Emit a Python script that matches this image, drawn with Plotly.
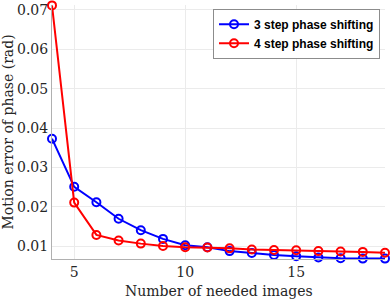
import plotly.graph_objects as go

n_images = list(range(4, 20))
err_3step = [0.0373, 0.0251, 0.0212, 0.0170, 0.0141, 0.0119, 0.0103, 0.0098,
             0.0088, 0.0083, 0.0078, 0.0075, 0.0072, 0.0070, 0.0069, 0.0069]
err_4step = [0.0711, 0.0211, 0.0129, 0.0115, 0.0107, 0.0101, 0.0098, 0.0097,
             0.0095, 0.0092, 0.0091, 0.0090, 0.0088, 0.0087, 0.0086, 0.0084]
names = ["3 step phase shifting", "4 step phase shifting"]
colors = ["#0000ff", "#ff0000"]

fig = go.Figure()
for ys, nm, c in zip([err_3step, err_4step], names, colors):
    fig.add_trace(go.Scatter(
        x=n_images, y=ys, name=nm, mode="lines+markers",
        line=dict(color=c, width=2),
        marker=dict(symbol="circle-open", size=8, color=c, line=dict(width=2, color=c)),
        cliponaxis=False,
    ))

serif = "DejaVu Serif"
fig.update_layout(
    width=390, height=301,
    margin=dict(l=52, r=5, t=5, b=42, autoexpand=False),
    paper_bgcolor="white", plot_bgcolor="white",
    font=dict(family=serif, size=14, color="#262626"),
    showlegend=True,
    legend=dict(
        x=0.985, y=0.985, xanchor="right", yanchor="top",
        bgcolor="white", bordercolor="#8c8c8c", borderwidth=1,
        font=dict(family="Liberation Sans", size=12, color="black", weight="bold"),
        tracegroupgap=0, itemwidth=30,
    ),
    xaxis=dict(
        range=[4, 19], tickvals=[5, 10, 15], ticks="", showgrid=True,
        gridcolor="#ebebeb", gridwidth=1, showline=True, linecolor="#b0b0b0",
        linewidth=1, zeroline=False, automargin=False,
        tickfont=dict(family=serif, size=14),
    ),
    yaxis=dict(
        range=[0.0068, 0.0712], tickvals=[0.01, 0.02, 0.03, 0.04, 0.05, 0.06, 0.07],
        ticktext=["0.01", "0.02", "0.03", "0.04", "0.05", "0.06", "0.07"],
        ticks="", showgrid=True, gridcolor="#ebebeb", gridwidth=1, showline=True,
        linecolor="#b0b0b0", linewidth=1, zeroline=False, automargin=False,
        title=dict(text="Motion error of phase (rad)", font=dict(family=serif, size=14), standoff=4),
        tickfont=dict(family=serif, size=14),
    ),
    annotations=[dict(
        text="Number of needed images", xref="paper", yref="paper",
        x=0.5, y=-0.126, xanchor="center", yanchor="middle", showarrow=False,
        font=dict(family=serif, size=14, color="#262626"),
    )],
)
fig.write_html("out.html", config={"displayModeBar": False},
               post_script="document.body.style.margin='0px';")
